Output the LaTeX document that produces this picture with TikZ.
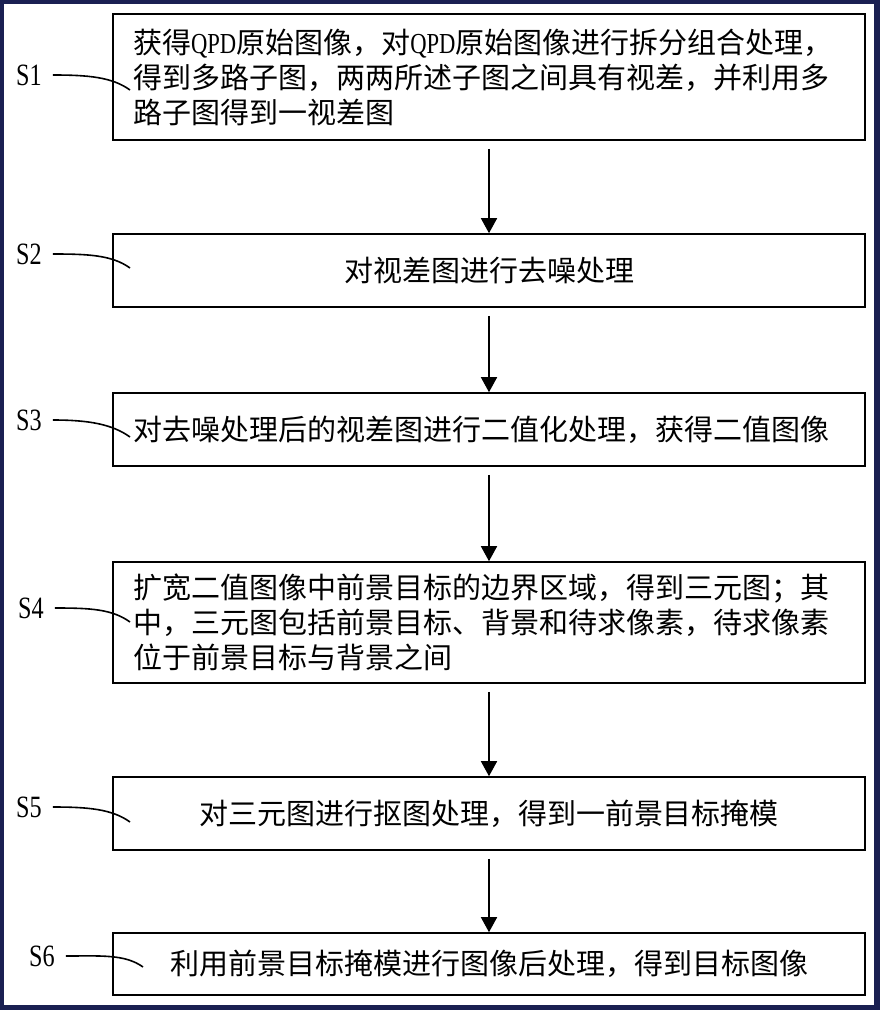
\documentclass[tikz,border=0pt]{standalone}
\usepackage{fontspec}
\setmainfont{Liberation Serif}
\newfontfamily\cjkfont{Noto Sans CJK SC}
\newfontfamily\narrowfont[FakeStretch=0.78]{Liberation Serif}
\usepackage{xcolor}
\usepackage{tikz}
\usetikzlibrary{shapes,arrows.meta}
\definecolor{framenavy}{RGB}{26,32,82}
\newcommand{\qpd}{{\narrowfont QPD}}

\begin{document}
\begin{tikzpicture}[x=1pt,y=-1pt,
  stepbox/.style={draw, rectangle, line width=1.6pt, inner xsep=20pt, inner ysep=0pt,
    text width=712pt, font=\cjkfont\fontsize{29}{35}\selectfont},
  steplabel/.style={inner xsep=11pt, inner ysep=2pt, font=\narrowfont\fontsize{31}{32}\selectfont},
  leader/.style={line width=1.6pt},
  flow/.style={line width=1.6pt, -{Triangle[length=15pt,width=16pt]}, shorten <=8pt}]
\useasboundingbox (0,0) rectangle (880,1010);
\fill[framenavy] (0,0) rectangle (880,1010);
\fill[white] (4,4) rectangle (874,1005);
%
\node[stepbox, align=left, minimum height=126pt] (b1) at (489,77)
  {获得\qpd 原始图像，对\qpd 原始图像进行拆分组合处理，\\
   得到多路子图，两两所述子图之间具有视差，并利用多\\
   路子图得到一视差图};
\node[stepbox, align=center, minimum height=73pt] (b2) at (489,270.5) {对视差图进行去噪处理};
\node[stepbox, align=left, minimum height=73pt] (b3) at (489,429.5)
  {对去噪处理后的视差图进行二值化处理，获得二值图像};
\node[stepbox, align=left, minimum height=121pt] (b4) at (489,622.5)
  {扩宽二值图像中前景目标的边界区域，得到三元图；其\\
   中，三元图包括前景目标、背景和待求像素，待求像素\\
   位于前景目标与背景之间};
\node[stepbox, align=center, minimum height=73pt] (b5) at (489,813.5)
  {对三元图进行抠图处理，得到一前景目标掩模};
\node[stepbox, align=center, minimum height=62pt] (b6) at (489,964)
  {利用前景目标掩模进行图像后处理，得到目标图像};
%
\draw[flow] (b1) -- (b2);
\draw[flow] (b2) -- (b3);
\draw[flow] (b3) -- (b4);
\draw[flow] (b4) -- (b5);
\draw[flow] (b5) -- (b6);
%
\node[steplabel] (s1) at (29,75) {S1};
\node[steplabel] (s2) at (29,254) {S2};
\node[steplabel] (s3) at (29,420) {S3};
\node[steplabel] (s4) at (31,608) {S4};
\node[steplabel] (s5) at (29,807) {S5};
\node[steplabel] (s6) at (42,956) {S6};
%
\coordinate (e1) at (130,90);
\coordinate (e2) at (130,268);
\coordinate (e3) at (130,437);
\coordinate (e4) at (130,622);
\coordinate (e5) at (130,822);
\coordinate (e6) at (143,967);
%
\draw[leader] (s1.east) .. controls +(35,0) and +(-18,-13) .. (e1);
\draw[leader] (s2.east) .. controls +(35,0) and +(-18,-13) .. (e2);
\draw[leader] (s3.east) .. controls +(35,0) and +(-18,-13) .. (e3);
\draw[leader] (s4.east) .. controls +(35,0) and +(-18,-13) .. (e4);
\draw[leader] (s5.east) .. controls +(35,0) and +(-18,-13) .. (e5);
\draw[leader] (s6.east) .. controls +(35,0) and +(-18,-13) .. (e6);
\end{tikzpicture}
\end{document}
